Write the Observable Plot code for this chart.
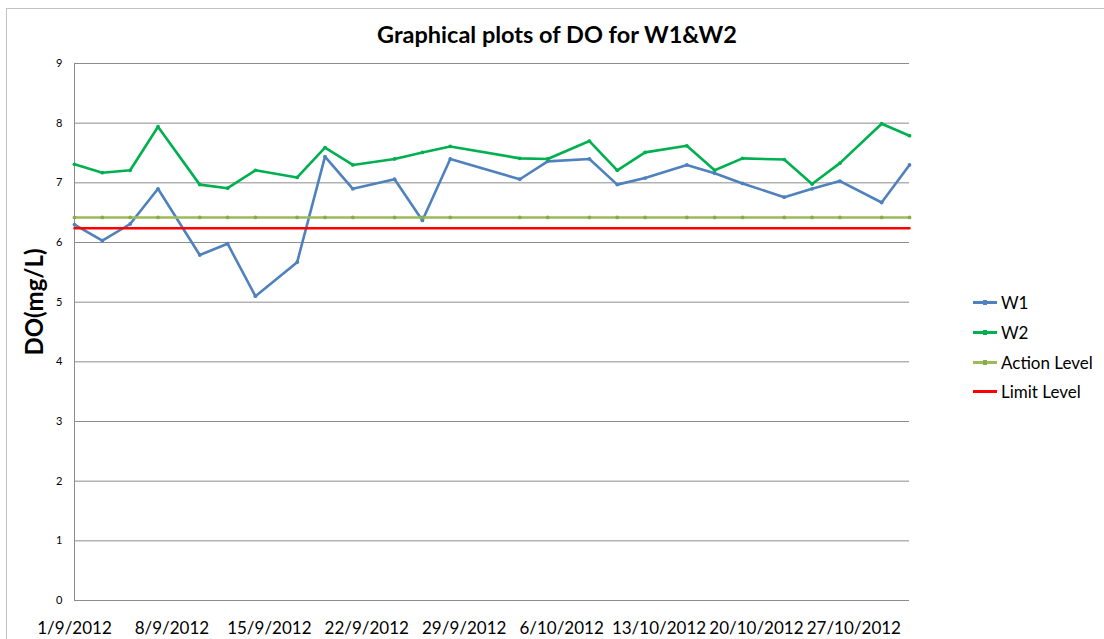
<!DOCTYPE html>
<html>
<head>
<meta charset="utf-8">
<script src="https://cdn.jsdelivr.net/npm/d3@7"></script>
<script src="https://cdn.jsdelivr.net/npm/@observablehq/plot@0.6"></script>
<style>
  html, body { margin: 0; padding: 0; background: #fff; }
  body { width: 1104px; height: 639px; overflow: hidden; position: relative; font-family: Lato, "Open Sans", sans-serif; color: #000; }
  #frame { position: absolute; left: 6px; top: 8px; width: 1300px; height: 800px; border: 1px solid #c3c3c3; }
  #title { position: absolute; left: 0; width: 1114px; top: 20px; text-align: center; font-weight: bold; font-size: 23.5px; line-height: normal; }
  #ylabel { position: absolute; left: 33px; top: 302px; transform: translate(-50%, -50%) rotate(-90deg); font-weight: bold; font-size: 24px; white-space: nowrap; }
  #legend { position: absolute; left: 973px; top: 288px; font-size: 17px; }
  .row { height: 29.7px; display: flex; align-items: center; }
  .sw { position: relative; width: 24px; height: 3px; margin-right: 4px; }
  .sw i { position: absolute; left: 10px; top: -1px; width: 4px; height: 5px; }
  #chart { position: absolute; left: 0; top: 0; }
</style>
</head>
<body>
<div id="frame"></div>
<div id="chart"></div>
<div id="title">Graphical plots of DO for W1&amp;W2</div>
<div id="ylabel">DO(mg/L)</div>
<div id="legend"></div>
<script>
// ---- data ----
const dates = ["2012-09-01","2012-09-03","2012-09-05","2012-09-07","2012-09-10","2012-09-12","2012-09-14",
  "2012-09-17","2012-09-19","2012-09-21","2012-09-24","2012-09-26","2012-09-28","2012-10-03","2012-10-05",
  "2012-10-08","2012-10-10","2012-10-12","2012-10-15","2012-10-17","2012-10-19","2012-10-22","2012-10-24",
  "2012-10-26","2012-10-29","2012-10-31"];
const w1Values = [6.30, 6.03, 6.31, 6.90, 5.79, 5.98, 5.10, 5.67, 7.44, 6.90, 7.06, 6.37, 7.40,
  7.06, 7.36, 7.40, 6.97, 7.08, 7.30, 7.16, 6.99, 6.76, 6.90, 7.03, 6.67, 7.30];
const w2Values = [7.31, 7.17, 7.21, 7.94, 6.97, 6.91, 7.21, 7.09, 7.59, 7.30, 7.40, 7.51, 7.61,
  7.41, 7.40, 7.70, 7.21, 7.51, 7.62, 7.21, 7.41, 7.39, 6.98, 7.33, 7.99, 7.79];
const actionLevel = 6.42;
const limitLevel = 6.24;
const xTickDates = ["2012-09-01","2012-09-08","2012-09-15","2012-09-22","2012-09-29","2012-10-06",
  "2012-10-13","2012-10-20","2012-10-27"];
const xDomain = ["2012-09-01","2012-10-31"];
const yTicks = [0, 1, 2, 3, 4, 5, 6, 7, 8, 9];
const seriesNames = ["W1", "W2", "Action Level", "Limit Level"];
const seriesColors = ["#4F81BD", "#00B050", "#9BBB59", "#FF0000"];

// ---- build ----
const parse = s => new Date(s + "T00:00:00Z");
const rows = [];
dates.forEach((d, i) => {
  rows.push({date: parse(d), value: w1Values[i], series: "W1"});
  rows.push({date: parse(d), value: w2Values[i], series: "W2"});
  rows.push({date: parse(d), value: actionLevel, series: "Action Level"});
  rows.push({date: parse(d), value: limitLevel, series: "Limit Level"});
});
const color = Object.fromEntries(seriesNames.map((n, i) => [n, seriesColors[i]]));
const fmt = d => `${d.getUTCDate()}/${d.getUTCMonth() + 1}/${d.getUTCFullYear()}`;

const lineMarks = seriesNames.map(n => Plot.line(rows.filter(r => r.series === n),
  {x: "date", y: "value", stroke: color[n], strokeWidth: 2.6, strokeLinejoin: "miter"}));
const dotMarks = ["W1", "W2", "Action Level"].map(n => Plot.dot(rows.filter(r => r.series === n),
  {x: "date", y: "value", r: 1.9, fill: n === "Action Level" ? "#8aab48" : color[n], stroke: "none"}));

const chart = Plot.plot({
  width: 1104,
  height: 639,
  marginLeft: 74,
  marginRight: 195,
  marginTop: 63,
  marginBottom: 39,
  style: {fontFamily: "Lato, 'Open Sans', sans-serif", color: "#000", background: "transparent"},
  x: {type: "utc", domain: xDomain.map(parse)},
  y: {domain: [0, 9]},
  marks: [
    Plot.ruleY(yTicks, {stroke: "#8c8c8c", strokeWidth: 1, strokeOpacity: 1}),
    Plot.ruleX([parse(xDomain[0])], {y1: 0, y2: 9, stroke: "#8c8c8c", strokeWidth: 1, strokeOpacity: 1}),
    Plot.axisY({ticks: yTicks, tickSize: 0, tickPadding: 12, fontSize: 11, label: null}),
    Plot.axisX({ticks: xTickDates.map(parse), tickFormat: fmt, tickSize: 0, tickPadding: 21, fontSize: 17, label: null}),
    lineMarks[0], dotMarks[0],
    lineMarks[1], dotMarks[1],
    lineMarks[2], dotMarks[2],
    lineMarks[3]
  ]
});
document.getElementById("chart").appendChild(chart);

// legend
const legend = document.getElementById("legend");
seriesNames.forEach((n, i) => {
  const row = document.createElement("div");
  row.className = "row";
  const sw = document.createElement("span");
  sw.className = "sw";
  sw.style.background = seriesColors[i];
  if (i < 3) {
    const m = document.createElement("i");
    m.style.background = i === 2 ? "#8aab48" : seriesColors[i];
    sw.appendChild(m);
  }
  const t = document.createElement("span");
  t.textContent = n;
  row.appendChild(sw);
  row.appendChild(t);
  legend.appendChild(row);
});
</script>
</body>
</html>
